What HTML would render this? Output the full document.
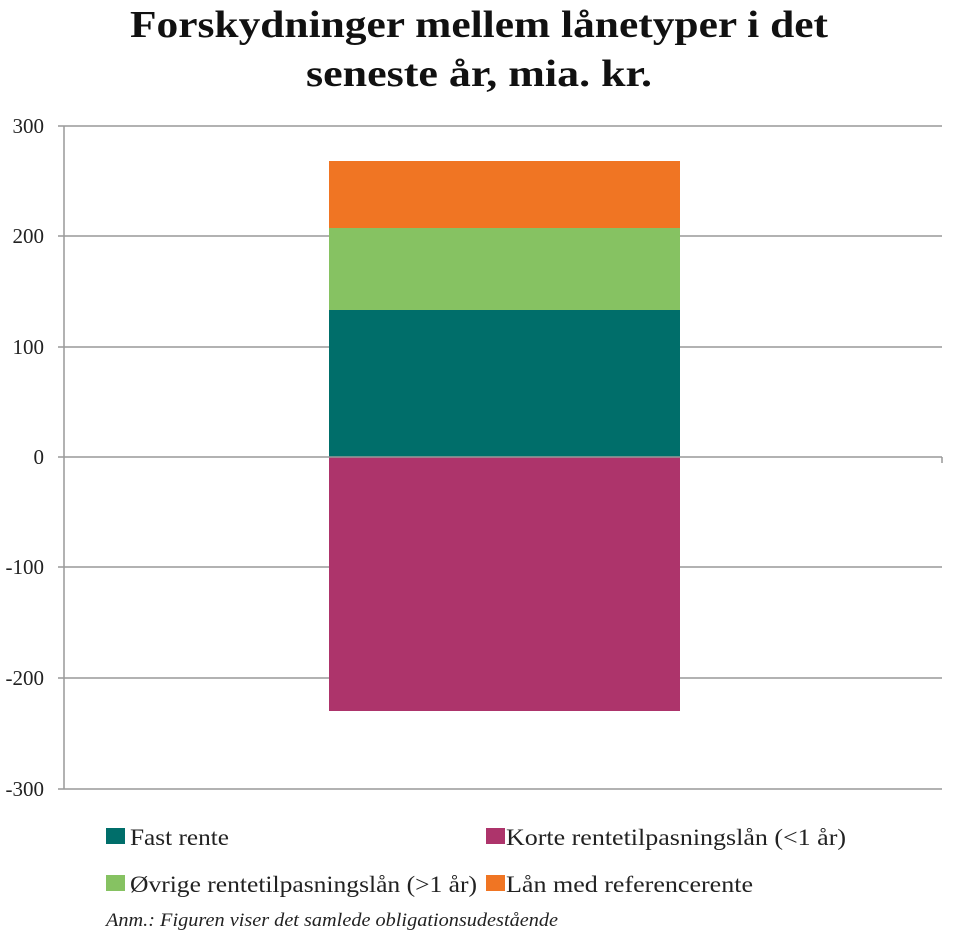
<!DOCTYPE html>
<html><head><meta charset="utf-8"><style>
html,body{margin:0;padding:0;background:#fff;}
svg{display:block;font-family:"Liberation Serif",serif;}
</style></head><body>
<svg width="960" height="948" xmlns="http://www.w3.org/2000/svg">
<text x="130" y="37" font-size="38" font-weight="bold" fill="#111" textLength="698" lengthAdjust="spacingAndGlyphs">Forskydninger mellem lånetyper i det</text>
<text x="306" y="86" font-size="38" font-weight="bold" fill="#111" textLength="346" lengthAdjust="spacingAndGlyphs">seneste år, mia. kr.</text>
<g stroke="#999" stroke-width="1.5">
<line x1="58" y1="126" x2="942" y2="126"/>
<line x1="58" y1="236" x2="942" y2="236"/>
<line x1="58" y1="347" x2="942" y2="347"/>
<line x1="58" y1="567" x2="942" y2="567"/>
<line x1="58" y1="678" x2="942" y2="678"/>
<line x1="58" y1="789" x2="942" y2="789"/>
<line x1="64" y1="126" x2="64" y2="789"/>
</g>
<rect x="329" y="161" width="351" height="67" fill="#f07523"/>
<rect x="329" y="228" width="351" height="82" fill="#86c262"/>
<rect x="329" y="310" width="351" height="147" fill="#006e6a"/>
<rect x="329" y="457" width="351" height="254" fill="#ad346b"/>
<g stroke="#999" stroke-width="1.5">
<line x1="58" y1="457" x2="942" y2="457"/>
<line x1="942" y1="457" x2="942" y2="463"/>
</g>
<g font-size="21" fill="#222" text-anchor="end">
<text x="44" y="133">300</text>
<text x="44" y="243">200</text>
<text x="44" y="354">100</text>
<text x="44" y="464">0</text>
<text x="44" y="574">-100</text>
<text x="44" y="685">-200</text>
<text x="44" y="796">-300</text>
</g>
<g font-size="23" fill="#222" lengthAdjust="spacingAndGlyphs">
<rect x="106" y="828" width="19" height="16" fill="#006e6a"/>
<text x="130" y="845" textLength="99" lengthAdjust="spacingAndGlyphs">Fast rente</text>
<rect x="486" y="828" width="19" height="16" fill="#ad346b"/>
<text x="506" y="845" textLength="340" lengthAdjust="spacingAndGlyphs">Korte rentetilpasningslån (&lt;1 år)</text>
<rect x="106" y="875" width="19" height="16" fill="#86c262"/>
<text x="130" y="892" textLength="347" lengthAdjust="spacingAndGlyphs">Øvrige rentetilpasningslån (&gt;1 år)</text>
<rect x="486" y="875" width="19" height="16" fill="#f07523"/>
<text x="506" y="892" textLength="247" lengthAdjust="spacingAndGlyphs">Lån med referencerente</text>
</g>
<text x="106" y="926" font-size="19" font-style="italic" fill="#222" textLength="452" lengthAdjust="spacingAndGlyphs">Anm.: Figuren viser det samlede obligationsudestående</text>
</svg>
</body></html>
